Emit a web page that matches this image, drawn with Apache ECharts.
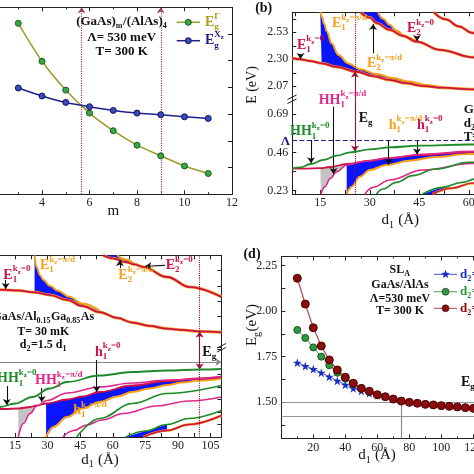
<!DOCTYPE html>
<html><head><meta charset="utf-8">
<script src="https://cdn.jsdelivr.net/npm/echarts@6/dist/echarts.min.js"></script>
<style>html,body{margin:0;padding:0;background:#fff;}#c{width:474px;height:474px;}</style>
</head><body><div id="c"></div>
<script>
// ================= DATA =================
// (a) (GaAs)m/(AlAs)4 band gaps vs m
const aM = [3,4,5,6,7,8,9,10,11];
const aEgGamma = [2.120,2.049,1.995,1.952,1.919,1.892,1.872,1.853,1.839];
const aEgXz = [1.999,1.984,1.972,1.964,1.957,1.952,1.949,1.945,1.942];
const aCrossings = [5.67, 9];

// (b) GaAs/AlAs minibands, [d1, E]
const bTicksX = [15,30,45,60];
const bTicksYUpper = [2.07,2.30,2.53];
const bTicksYLower = [0.23,0.46,0.69];
const bE1k0 = [[6.5,2.31],[9,2.30],[12,2.285],[15.4,2.266],[20,2.235],[26,2.194],[31,2.157],[36,2.124],[41,2.097],[46,2.073],[52,2.058],[61,2.044],[70,2.035]];
const bE1pi = [[15,2.70],[15.5,2.66],[16.2,2.60],[17,2.535],[18.4,2.436],[20.5,2.337],[23.5,2.265],[27,2.215],[32,2.175],[37,2.14],[42,2.11],[47,2.082],[52,2.06]];
const bE2k0 = [[27.2,2.70],[30,2.655],[32.1,2.607],[36.1,2.55],[40,2.50],[44.2,2.45],[51.3,2.38],[61.4,2.317],[70,2.275]];
const bE2pi = [[32.5,2.70],[34,2.645],[36,2.595],[38,2.545],[41,2.49],[44.2,2.452]];
const bE3k0 = [[49.4,2.70],[53,2.64],[57,2.58],[61,2.525],[66,2.47],[70,2.43]];
const bHH1k0 = [[6.5,0.364],[9,0.37],[12,0.39],[16,0.415],[20,0.44],[24,0.46],[30,0.478],[36,0.49],[45,0.50],[60,0.507],[70,0.51]];
const bh1k0 = [[6.5,0.362],[10,0.362],[15,0.365],[18,0.372],[23,0.39],[30,0.41],[36,0.425],[45,0.443],[60,0.462],[70,0.47]];
const bHH1pi = [[15.2,0.21],[16.4,0.254],[18,0.304],[20,0.344],[23,0.384],[28,0.405],[36,0.428],[46,0.449],[61,0.466],[70,0.472]];
const bh1pi = [[23,0.21],[24.5,0.254],[27,0.314],[30,0.354],[35,0.384],[42,0.41],[50,0.432],[60,0.45],[70,0.46]];
const bHH2 = [[28.5,0.21],[31,0.25],[36,0.294],[46,0.354],[61,0.394],[70,0.41]];
const bGrn2 = [[32,0.21],[34,0.24],[38,0.28],[43,0.32],[50,0.36],[60,0.40],[70,0.42]];
const bBand3Top = [[46,0.21],[52,0.25],[58,0.28],[62,0.30],[70,0.33]];
const bBand3Bot = [[49,0.21],[55,0.245],[61,0.275],[70,0.31]];
const bLambda = 0.53;
const bEg = [25.5, 2.197, 0.465];
const bUpperArrows = [[9,2.345,9,2.302],[31,2.35,31,2.60],[44.3,2.493,44.3,2.455]];
const bLowerArrows = [[12.2,0.534,12.2,0.395],[19,0.735,19,0.33],[35.7,0.534,35.7,0.385],[44.3,0.534,44.3,0.447]];

// (c) GaAs/Al0.15Ga0.85As minibands, [d1, E]
const cTicksX = [15,30,45,60,75,90,105];
const cE1k0 = [[5,1.688],[10,1.687],[16,1.685],[24,1.679],[31,1.670],[39,1.654],[46,1.634],[54,1.614],[62,1.595],[69,1.580],[77,1.569],[85,1.560],[92,1.556],[100,1.551],[110,1.548]];
const cE1pi = [[24,1.80],[25,1.76],[26.5,1.735],[28,1.72],[31,1.70],[35,1.683],[40,1.664],[46,1.642],[54,1.618]];
const cE2k0 = [[55.6,1.80],[60,1.79],[66,1.778],[70,1.770],[74,1.762],[85,1.729],[95.5,1.696],[110,1.664]];
const cE2pi = [[62,1.80],[66,1.786],[70,1.771]];
const cHH1k0 = [[5,0.059],[8,0.06],[15,0.067],[23,0.08],[31,0.097],[39,0.11],[54,0.123],[69,0.13],[85,0.133],[100,0.135],[110,0.136]];
const ch1k0 = [[5,0.056],[10,0.056],[16.5,0.057],[22,0.06],[25,0.063],[29.3,0.067],[39,0.075],[46,0.081],[54,0.09],[69,0.103],[85,0.112],[100,0.117],[110,0.12]];
const cHH1pi = [[16.5,0],[18.8,0.027],[21.9,0.047],[25,0.062],[29.6,0.073],[39,0.088],[54,0.10],[69,0.108],[85,0.114],[110,0.121]];
const ch1pi = [[29.3,0],[32.6,0.02],[39,0.04],[46,0.057],[54,0.07],[62,0.081],[69,0.09],[77,0.097],[85,0.104],[92,0.109],[100,0.113],[110,0.117]];
const cGrn2 = [[43.4,0],[54,0.037],[69,0.067],[85,0.087],[110,0.103]];
const cHH2 = [[37,0],[42,0.013],[48,0.024],[55,0.034],[65,0.047],[80,0.062],[95,0.072],[110,0.08]];
const cBand3Top = [[66,0],[75,0.012],[85,0.025],[95,0.037],[110,0.053]];
const cBand3Bot = [[74,0],[85,0.013],[95,0.025],[110,0.043]];
const cLambda = 0.147;
const cEg = [100, 1.551, 0.135];
const cUpperArrows = [[10.7,1.72,10.7,1.69],[63.3,1.758,63.3,1.785],[84,1.767,75,1.764]];
const cLowerArrows = [[11.2,0.102,11.2,0.064],[27.3,0.098,27.3,0.07],[52.6,0.154,52.6,0.09]];

// (d) SL_A band gap vs d1
const dTicksY = [1.50,1.75,2.00,2.25];
const dD1Red = [10,15,20,25,30,35,40,45,50,55,60,65,70,75,80,85,90,95,100,105,110,115,120];
const dRed = [2.180,2.038,1.908,1.808,1.731,1.676,1.636,1.603,1.575,1.559,1.540,1.529,1.516,1.505,1.498,1.493,1.487,1.484,1.480,1.476,1.473,1.469,1.465];
const dD1Green = [10,15,20,25,30,35,40,45,50,55,60];
const dGreen = [1.896,1.852,1.800,1.749,1.702,1.661,1.628,1.600,1.574,1.556,1.538];
const dD1Blue = [10,15,20,25,30,35,40,45,50,55,60];
const dBlue = [1.716,1.698,1.681,1.661,1.639,1.617,1.595,1.575,1.562,1.548,1.537];
const dMark = [75, 1.505, 1.42];

// ================= HELPERS =================
const SERIF = '"Liberation Serif","DejaVu Serif",serif';
const RED='#cc1248', ORANGE='#f6a01a', MAG='#e0288c', GRN='#1f8a2a', BLUEF='#0a14ff', GRAYF='#c4c4c4', NAVY='#1c1c86', DKRED='#9a1030';
const mctx = document.createElement('canvas').getContext('2d');
function fnt(sz,bold){ return (bold?'bold ':'')+sz+'px '+SERIF; }
function tw(t,f){ mctx.font=f; return mctx.measureText(t).width; }
function T(x,y,t,color,sz,bold){ return {type:'text',x,y,z:100,silent:true,style:{text:t,font:fnt(sz,bold),fill:color,textAlign:'left',textVerticalAlign:'middle',align:'left',verticalAlign:'middle'}}; }
function measureSmall(s,sz,bold){ const p=s.split('_'); let w=tw(p[0],fnt(sz,bold)); const ts=Math.round(sz*0.78); for(let i=1;i<p.length;i++){ w+=tw(p[i][0],fnt(ts,bold)); w+=tw(p[i].slice(1),fnt(sz,bold)); } return w; }
function emitSmall(ch,x,y,s,color,sz,bold){ const p=s.split('_'); let cx=x; ch.push(T(cx,y,p[0],color,sz,bold)); cx+=tw(p[0],fnt(sz,bold)); const ts=Math.round(sz*0.78);
  for(let i=1;i<p.length;i++){ const a=p[i][0], b=p[i].slice(1); ch.push(T(cx,y+sz*0.3,a,color,ts,bold)); cx+=tw(a,fnt(ts,bold)); if(b){ ch.push(T(cx,y,b,color,sz,bold)); cx+=tw(b,fnt(sz,bold)); } } }
function rt(x,y,pieces,color,sz,o){ o=o||{}; const bold=o.bold!==false, ss=Math.round(sz*0.64);
  const ws=pieces.map(p=> typeof p==='string' ? tw(p,fnt(sz,bold)) : Math.max(p.sub?measureSmall(p.sub,ss,bold):0, p.sup?measureSmall(p.sup,ss,bold):0)+0.5);
  const W=ws.reduce((a,b)=>a+b,0); let cx=o.align==='center'?-W/2:0; const ch=[];
  pieces.forEach((p,i)=>{ if(typeof p==='string') ch.push(T(cx,0,p,color,sz,bold)); else { if(p.sub) emitSmall(ch,cx,sz*0.33,p.sub,color,ss,bold); if(p.sup) emitSmall(ch,cx,-sz*0.42,p.sup,color,ss,bold);} cx+=ws[i]; });
  return {type:'group',x,y,rotation:o.rotation||0,z:100,silent:true,children:ch}; }

const grids=[], xAxes=[], yAxes=[], series=[], graphic=[];
function mkAxis(dim,gi,c,mirror){
  const pos = dim==='x' ? (mirror?'top':'bottom') : (mirror?'right':'left');
  const ax={type:'value',gridIndex:gi,min:c.min,max:c.max,position:pos,
    axisLine:{show: mirror ? c.mLine!==false : c.line!==false, onZero:false, lineStyle:{color:'#222',width:1}},
    axisTick:{show: mirror ? c.mTick!==false : c.tick!==false, inside:true, length:4, lineStyle:{color:'#222',width:1}},
    minorTick:{show:!!c.minor, splitNumber:c.minor||5, length:2, lineStyle:{color:'#222',width:1}},
    axisLabel:{show: !mirror && c.label!==false, margin:c.margin||3, color:'#222', fontFamily:SERIF, fontSize:12},
    splitLine:{show:false}, minorSplitLine:{show:false}};
  if(c.interval!=null) ax.interval=c.interval;
  if(c.ticks) ax.axisTick.customValues=c.ticks;
  if(c.labels) ax.axisLabel.customValues=c.labels;
  if(c.fmt) ax.axisLabel.formatter=c.fmt;
  if(c.hideMin) ax.axisLabel.showMinLabel=false;
  return ax;
}
function addGrid(g,xc,yc){ const gi=grids.length; grids.push(Object.assign({outerBoundsMode:'none',containLabel:false},g));
  xAxes.push(mkAxis('x',gi,xc,false),mkAxis('x',gi,xc,true)); yAxes.push(mkAxis('y',gi,yc,false),mkAxis('y',gi,yc,true)); return gi; }
function line(gi,data,color,width,z,extra){ return Object.assign({type:'line',xAxisIndex:2*gi,yAxisIndex:2*gi,data,showSymbol:false,symbol:'none',smooth:0.4,smoothMonotone:'x',lineStyle:{color,width},z,silent:true,animation:false,clip:true},extra||{}); }
function band(top,bot,x0,x1){ const t=top.filter(p=>p[0]>=x0&&p[0]<=x1); const b=bot.filter(p=>p[0]>=x0&&p[0]<=x1).reverse(); return t.concat(b); }
function poly(gi,pts,color,z){ return {type:'custom',xAxisIndex:2*gi,yAxisIndex:2*gi,data:[[pts[0][0],pts[0][1]]],clip:true,silent:true,z,animation:false,
  renderItem:(params,api)=>({type:'polygon',shape:{points:pts.map(p=>api.coord(p))},style:{fill:color}})}; }
function seg(a,color,type,sym){ return [{coord:[a[0],a[1]],symbol:sym[0],lineStyle:{color,type,width:1.1}},{coord:[a[2],a[3]],symbol:sym[1],lineStyle:{color,type,width:1.1}}]; }
function ml(data){ return {silent:true,animation:false,symbolSize:6,label:{show:false},emphasis:{disabled:true},data}; }
const f2 = v=>v.toFixed(2);

// ================= PANEL (a) =================
const gA = addGrid({left:-5.5,right:242,top:7.3,bottom:279.7},
  {min:2,max:12,interval:2,minor:2},
  {min:1.80,max:2.15,interval:0.05,label:false});
series.push(line(gA, aM.map((m,i)=>[m,aEgGamma[i]]), '#9c9c2a', 1.5, 5,
  {smooth:0.25,smoothMonotone:null,showSymbol:true,symbol:'circle',symbolSize:6,itemStyle:{color:'#38a844',borderColor:'#1c5c22',borderWidth:1},
   markLine:ml(aCrossings.map(v=>({xAxis:v,lineStyle:{type:'dotted',color:'#a0405a',width:1.2},symbol:'none'})))}));
series.push(line(gA, aM.map((m,i)=>[m,aEgXz[i]]), '#1f1f8f', 1.5, 5,
  {smooth:0.25,smoothMonotone:null,showSymbol:true,symbol:'circle',symbolSize:6,itemStyle:{color:'#3a4ab8',borderColor:'#121260',borderWidth:1}}));

// ================= PANEL (b) =================
const gBu = addGrid({left:292.25,right:-27.8,top:12.3,bottom:373.6},
  {min:6.5,max:70,line:false,tick:false,label:false,ticks:[7.5,15,22.5,30,37.5,45,52.5,60,67.5]},
  {min:1.95,max:2.70,labels:bTicksYUpper,ticks:[2.07,2.185,2.30,2.415,2.53,2.645],fmt:f2,margin:4});
const gBl = addGrid({left:292.25,right:-27.8,top:100.7,bottom:280},
  {min:6.5,max:70,labels:bTicksX,ticks:[7.5,15,22.5,30,37.5,45,52.5,60,67.5],mLine:false,mTick:false},
  {min:0.21,max:0.77,labels:bTicksYLower,ticks:[0.23,0.345,0.46,0.575,0.69],fmt:f2,margin:4});
series.push(poly(gBu, band(bE1pi,bE1k0,15,52), BLUEF, 2));
series.push(poly(gBu, band(bE2pi,bE2k0,27,45), BLUEF, 2));
series.push(line(gBu, bE1pi, ORANGE, 2, 3));
series.push(line(gBu, bE2pi, ORANGE, 2, 3));
series.push(line(gBu, bE1k0, ORANGE, 3, 3));
series.push(line(gBu, bE2k0, ORANGE, 3, 3));
series.push(line(gBu, bE3k0, ORANGE, 3, 3));
series.push(line(gBu, bE2k0, RED, 1.8, 4));
series.push(line(gBu, bE3k0, RED, 1.8, 4));
series.push(line(gBu, bE1k0, RED, 1.8, 4, {markLine:ml([
  seg([bEg[0],bEg[1],bEg[0],2.70],DKRED,'dotted',['none','none']),
  seg([bEg[0],1.95,bEg[0],bEg[1]],DKRED,'solid',['none','arrow'])
].concat(bUpperArrows.map(a=>seg(a,'#111','solid',['none','arrow']))))}));

series.push(poly(gBl, band(bh1k0,bh1pi,23,70), BLUEF, 2));
series.push(poly(gBl, band(bh1k0,bHH1pi,15,23), GRAYF, 2));
series.push(poly(gBl, band(bBand3Top,bBand3Bot,46,55), BLUEF, 2));
series.push(line(gBl, bh1pi, ORANGE, 2, 3));
series.push(line(gBl, bBand3Bot, ORANGE, 2.5, 3));
series.push(line(gBl, bBand3Bot, RED, 1.4, 4));
series.push(line(gBl, bBand3Top, GRN, 1.6, 5));
series.push(line(gBl, bHH2, MAG, 1.6, 4));
series.push(line(gBl, bGrn2, GRN, 1.6, 5));
series.push(line(gBl, bh1k0, RED, 1.8, 4));
series.push(line(gBl, bHH1pi, MAG, 1.6, 4));
series.push(line(gBl, bHH1k0, GRN, 1.8, 5, {markLine:ml([
  {yAxis:bLambda,symbol:'none',lineStyle:{color:NAVY,type:'dashed',width:1.2}},
  seg([bEg[0],bEg[2],bEg[0],0.21],DKRED,'dotted',['none','none']),
  seg([bEg[0],0.77,bEg[0],bEg[2]],DKRED,'solid',['none','arrow'])
].concat(bLowerArrows.map(a=>seg(a,'#111','solid',['none','arrow']))))}));

// ================= PANEL (c) =================
const gCu = addGrid({left:-6.7,right:252.6,top:255.3,bottom:127},
  {min:5,max:110,line:false,tick:false,label:false,ticks:[7.5,15,22.5,30,37.5,45,52.5,60,67.5,75,82.5,90,97.5,105]},
  {min:1.50,max:1.80,interval:0.05,label:false});
const gCl = addGrid({left:-6.7,right:252.6,top:347,bottom:37},
  {min:5,max:110,labels:cTicksX,ticks:[7.5,15,22.5,30,37.5,45,52.5,60,67.5,75,82.5,90,97.5,105],mLine:false,mTick:false},
  {min:0,max:0.18,interval:0.025,label:false});
series.push(poly(gCu, band(cE1pi,cE1k0,24,54), BLUEF, 2));
series.push(poly(gCu, band(cE2pi,cE2k0,55,70), BLUEF, 2));
series.push(line(gCu, cE1pi, ORANGE, 2, 3));
series.push(line(gCu, cE2pi, ORANGE, 2, 3));
series.push(line(gCu, cE1k0, ORANGE, 3, 3));
series.push(line(gCu, cE2k0, ORANGE, 3, 3));
series.push(line(gCu, cE2k0, RED, 1.8, 4));
series.push(line(gCu, cE1k0, RED, 1.8, 4, {markLine:ml([
  seg([cEg[0],1.80,cEg[0],cEg[1]],DKRED,'dotted',['none','none']),
  seg([cEg[0],1.50,cEg[0],cEg[1]],DKRED,'solid',['none','arrow'])
].concat(cUpperArrows.map(a=>seg(a,'#111','solid',['none','arrow']))))}));

series.push(poly(gCl, band(ch1k0,ch1pi,29.3,110), BLUEF, 2));
series.push(poly(gCl, band(ch1k0,cHH1pi,16.5,25), GRAYF, 2));
series.push(poly(gCl, band(cBand3Top,cBand3Bot,66,85), BLUEF, 2));
series.push(line(gCl, ch1pi, ORANGE, 2, 3));
series.push(line(gCl, cBand3Bot, ORANGE, 2.5, 3));
series.push(line(gCl, cBand3Bot, RED, 1.4, 4));
series.push(line(gCl, cBand3Top, GRN, 1.6, 5));
series.push(line(gCl, cHH2, MAG, 1.6, 4));
series.push(line(gCl, cGrn2, GRN, 1.6, 5));
series.push(line(gCl, ch1k0, RED, 1.8, 4));
series.push(line(gCl, cHH1pi, MAG, 1.6, 4));
series.push(line(gCl, cHH1k0, GRN, 1.8, 5, {markLine:ml([
  {yAxis:cLambda,symbol:'none',lineStyle:{color:'#888',type:'solid',width:1}},
  seg([cEg[0],cEg[2],cEg[0],0],DKRED,'dotted',['none','none']),
  seg([cEg[0],0.18,cEg[0],cEg[2]],DKRED,'solid',['none','arrow'])
].concat(cLowerArrows.map(a=>seg(a,'#111','solid',['none','arrow']))))}));

// ================= PANEL (d) =================
const gD = addGrid({left:281.3,right:-15.3,top:256.4,bottom:35.6},
  {min:0,max:130,interval:20,minor:2,hideMin:true},
  {min:1.30,max:2.30,labels:dTicksY,ticks:[1.375,1.5,1.625,1.75,1.875,2.0,2.125,2.25],fmt:f2,margin:4});
const STAR='path://M50,0 L61,35 L98,35 L68,57 L79,91 L50,70 L21,91 L32,57 L2,35 L39,35 Z';
series.push(line(gD, dD1Blue.map((x,i)=>[x,dBlue[i]]), '#4557d6', 1, 3,
  {smooth:false,showSymbol:true,symbol:STAR,symbolSize:9,itemStyle:{color:'#1a2fc0'}}));
series.push(line(gD, dD1Green.map((x,i)=>[x,dGreen[i]]), '#45a050', 1, 4,
  {smooth:false,showSymbol:true,symbol:'circle',symbolSize:7,itemStyle:{color:'#2c9a3c',borderColor:'#155a1a',borderWidth:1}}));
series.push(line(gD, dD1Red.map((x,i)=>[x,dRed[i]]), '#a84848', 1.2, 5,
  {smooth:false,showSymbol:true,symbol:'circle',symbolSize:8,itemStyle:{color:'#8a0c0c',borderColor:'#4a0404',borderWidth:1},
   markLine:ml([
     seg([dMark[0],1.30,dMark[0],dMark[1]],'#888','solid',['none','none']),
     {yAxis:dMark[1],symbol:'none',lineStyle:{color:'#888',type:'solid',width:0.9}},
     {yAxis:dMark[2],symbol:'none',lineStyle:{color:'#888',type:'solid',width:0.9}}
   ])}));

// ================= TEXT / DECORATION =================
const K = '#111';
// (a)
graphic.push(rt(121.7,21.7,['(GaAs)',{sub:'m'},'/(AlAs)',{sub:'4'}],K,13,{align:'center'}));
graphic.push(rt(121.7,37.7,['Λ= 530 meV'],K,13,{align:'center'}));
graphic.push(rt(121.7,51.7,['T= 300 K'],K,13,{align:'center'}));
graphic.push({type:'line',z:100,shape:{x1:176.7,y1:22.3,x2:200,y2:22.3},style:{stroke:'#9c9c2a',lineWidth:1.5}});
graphic.push({type:'circle',z:101,shape:{cx:188.3,cy:22.3,r:3},style:{fill:'#38a844',stroke:'#1c5c22',lineWidth:1}});
graphic.push(rt(205,22.3,['E',{sub:'g',sup:'Γ'}],'#b09818',14));
graphic.push({type:'line',z:100,shape:{x1:176.7,y1:40.7,x2:200,y2:40.7},style:{stroke:'#1f1f8f',lineWidth:1.5}});
graphic.push({type:'circle',z:101,shape:{cx:188.3,cy:40.7,r:3},style:{fill:'#3a4ab8',stroke:'#121260',lineWidth:1}});
graphic.push(rt(205,40.7,['E',{sub:'g',sup:'X_z'}],'#1c1c80',14));
graphic.push(rt(113.3,210.7,['m'],K,15,{align:'center',bold:false}));
// (b)
graphic.push(rt(263.7,8.3,['(b)'],K,14,{align:'center'}));
graphic.push(rt(297,45,['E',{sub:'1',sup:'k_z=0'}],RED,14));
graphic.push(rt(332,23.3,['E',{sub:'1',sup:'k_z=π/d'}],ORANGE,14));
graphic.push(rt(367,63.3,['E',{sub:'2',sup:'k_z=π/d'}],ORANGE,14));
graphic.push(rt(407,28.3,['E',{sub:'2',sup:'k_z=0'}],RED,14));
graphic.push(rt(318.7,100,['HH',{sub:'1',sup:'k_z=π/d'}],MAG,14));
graphic.push(rt(358.7,118.3,['E',{sub:'g'}],K,14));
graphic.push(rt(290,131.7,['HH',{sub:'1',sup:'k_z=0'}],GRN,14));
graphic.push(rt(285.3,141.7,['Λ'],NAVY,13,{align:'center'}));
graphic.push(rt(388.7,125,['h',{sub:'1',sup:'k_z=π/d'}],ORANGE,14));
graphic.push(rt(417,125,['h',{sub:'1',sup:'k_z=0'}],RED,14));
graphic.push(rt(463.7,110,['GaAs/AlAs'],K,13));
graphic.push(rt(463.7,123.3,['d',{sub:'2'},'=d',{sub:'1'}],K,13));
graphic.push(rt(463.7,136.7,['T= 300 K'],K,13));
graphic.push(rt(252,85,['E (eV)'],K,14,{align:'center',bold:false,rotation:Math.PI/2}));
graphic.push(rt(400.3,220,['d',{sub:'1'},' (Å)'],K,15,{align:'center',bold:false}));
graphic.push({type:'line',z:100,shape:{x1:287.5,y1:99.5,x2:296.5,y2:95},style:{stroke:'#222',lineWidth:1}});
graphic.push({type:'line',z:100,shape:{x1:287.5,y1:103.5,x2:296.5,y2:99},style:{stroke:'#222',lineWidth:1}});
// (c)
graphic.push(rt(3.3,275,['E',{sub:'1',sup:'k_z=0'}],RED,14));
graphic.push(rt(40,265.3,['E',{sub:'1',sup:'k_z=π/d'}],ORANGE,14));
graphic.push(rt(118.3,275.3,['E',{sub:'2',sup:'k_z=π/d'}],ORANGE,14));
graphic.push(rt(165.7,265.3,['E',{sub:'2',sup:'k_z=0'}],RED,14));
graphic.push(rt(43.3,317,['GaAs/Al',{sub:'0.15'},'Ga',{sub:'0.85'},'As'],K,12,{align:'center'}));
graphic.push(rt(43.3,332,['T= 30 mK'],K,12,{align:'center'}));
graphic.push(rt(43.3,345.3,['d',{sub:'2'},'=1.5 d',{sub:'1'}],K,12,{align:'center'}));
graphic.push(rt(95,352,['h',{sub:'1',sup:'k_z=0'}],RED,14));
graphic.push(rt(-3,378.7,['HH',{sub:'1',sup:'k_z=0'}],GRN,14));
graphic.push(rt(35,380.3,['HH',{sub:'1',sup:'k_z=π/d'}],MAG,14));
graphic.push(rt(73.3,410.3,['h',{sub:'1',sup:'k_z=π/d'}],ORANGE,14));
graphic.push({type:'rect',z:99,shape:{x:201,y:343,width:15,height:18},style:{fill:'#fff'}});
graphic.push(rt(202.3,352,['E',{sub:'g'}],K,14));
graphic.push(rt(100,459.7,['d',{sub:'1'},' (Å)'],K,15,{align:'center',bold:false}));
graphic.push({type:'line',z:100,shape:{x1:217,y1:348,x2:226,y2:343.5},style:{stroke:'#222',lineWidth:1}});
graphic.push({type:'line',z:100,shape:{x1:217,y1:352,x2:226,y2:347.5},style:{stroke:'#222',lineWidth:1}});
// (d)
graphic.push(rt(252,254.3,['(d)'],K,14,{align:'center'}));
graphic.push(rt(400,270.3,['SL',{sub:'A'}],K,12,{align:'center'}));
graphic.push(rt(400,285.3,['GaAs/AlAs'],K,12,{align:'center'}));
graphic.push(rt(400,298.7,['Λ=530 meV'],K,12,{align:'center'}));
graphic.push(rt(400,311,['T= 300 K'],K,12,{align:'center'}));
graphic.push(rt(461,382,['E',{sub:'g'}],K,14));
graphic.push(rt(252,325,['E',{sub:'g'},'(eV)'],K,15,{align:'center',bold:false,rotation:Math.PI/2}));
graphic.push(rt(377,455.3,['d',{sub:'1'},' (Å)'],K,15,{align:'center',bold:false}));
const legD = [[274.3,'#4557d6','#1a2fc0','star'],[291.7,'#45a050','#2c9a3c','c'],[308.3,'#a84848','#8a0c0c','c']];
legD.forEach(([y,lc,mc,kind])=>{
  graphic.push({type:'line',z:100,shape:{x1:434,y1:y,x2:457,y2:y},style:{stroke:lc,lineWidth:1}});
  if(kind==='star'){ const pts=[]; for(let k=0;k<10;k++){ const r=k%2?2:4.6, a=-Math.PI/2+k*Math.PI/5; pts.push([445.5+r*Math.cos(a), y+r*Math.sin(a)]); }
    graphic.push({type:'polygon',z:101,shape:{points:pts},style:{fill:mc}}); }
  else graphic.push({type:'circle',z:101,shape:{cx:445.5,cy:y,r:3.5},style:{fill:mc,stroke:'#222',lineWidth:0.6}});
  graphic.push(rt(460,y,['d',{sub:'2'},'='],mc,13));
});

// ================= RENDER =================
const chart = echarts.init(document.getElementById('c'), null, {renderer:'canvas', width:474, height:474});
chart.setOption({
  animation:false, backgroundColor:'#fff',
  textStyle:{fontFamily:SERIF},
  grid:grids, xAxis:xAxes, yAxis:yAxes, series, graphic:{elements:graphic}
});
</script></body></html>
